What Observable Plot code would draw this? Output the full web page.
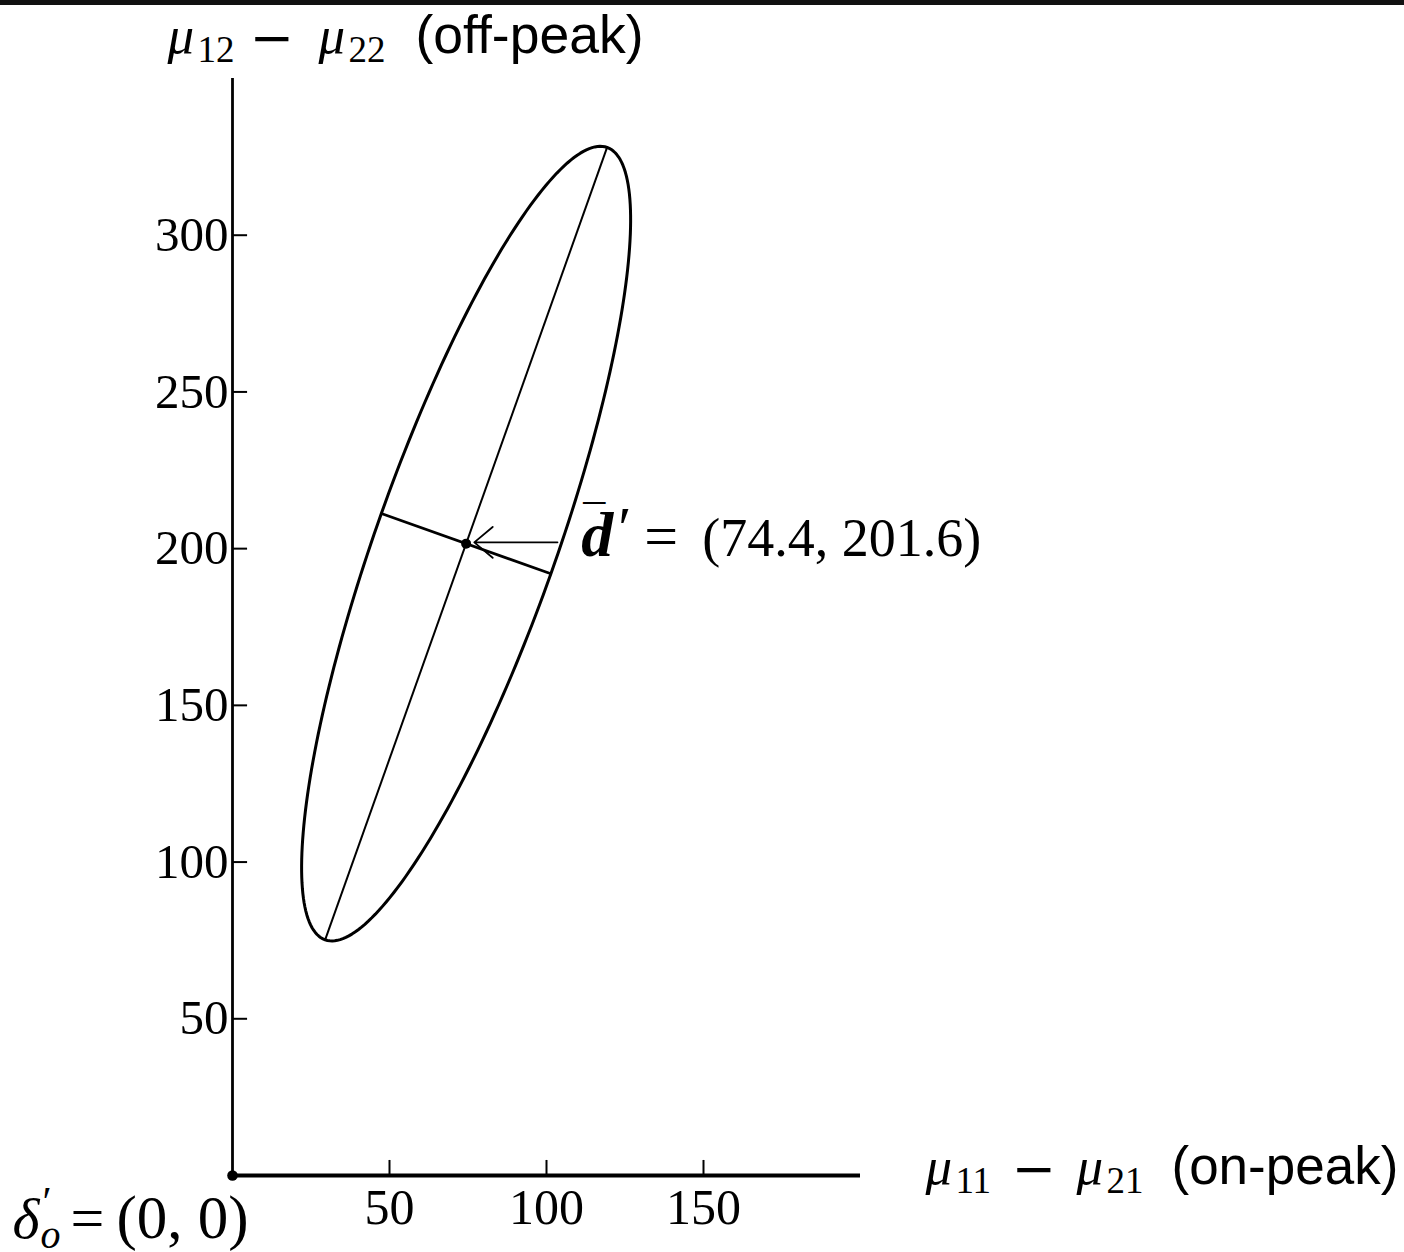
<!DOCTYPE html>
<html>
<head>
<meta charset="utf-8">
<script src="https://cdn.jsdelivr.net/npm/d3@7"></script>
<script src="https://cdn.jsdelivr.net/npm/@observablehq/plot@0.6"></script>
<style>
  html, body { margin: 0; padding: 0; background: #fff; }
  #wrap { position: relative; width: 1404px; height: 1252px; overflow: hidden; }
  #topline { position: absolute; left: 0; top: 0; width: 1404px; height: 5px; background: #111; }
  svg { display: block; }
</style>
</head>
<body>
<div id="wrap"><div id="chart"></div><div id="topline"></div></div>
<script>
// ---- data ----
const xDomain = [0, 200];
const yDomain = [0, 350];
const xTicks = [50, 100, 150];
const yTicks = [50, 100, 150, 200, 250, 300];
const center = [74.4, 201.6];          // d-bar'
const majorHalf = [44.9, 126.4];       // half major axis vector
const minorHalf = [27.0, -9.6];        // half minor axis vector
const origin = [0, 0];                 // delta'_o
const arrowFrom = [103.5, 202.0];
const arrowTo = [77.0, 202.0];
const labelX = [-20.7, 220.7, -70.1, 111.1];
const labelY = [358.0, -2.6, -19.8, 197.8];
const labelText = ["μ12 − μ22 (off-peak)", "μ11 − μ21 (on-peak)", "δ′o = (0, 0)", "d̄′ = (74.4, 201.6)"];

// ---- derived geometry ----
const nPts = 240;
const ellipse = d3.range(nPts).map(i => {
  const t = 2 * Math.PI * i / nPts;
  return {
    x: center[0] + Math.cos(t) * majorHalf[0] + Math.sin(t) * minorHalf[0],
    y: center[1] + Math.cos(t) * majorHalf[1] + Math.sin(t) * minorHalf[1]
  };
});
const majorAxis = [{x1: center[0] - majorHalf[0], y1: center[1] - majorHalf[1], x2: center[0] + majorHalf[0], y2: center[1] + majorHalf[1]}];
const minorAxis = [{x1: center[0] - minorHalf[0], y1: center[1] - minorHalf[1], x2: center[0] + minorHalf[0], y2: center[1] + minorHalf[1]}];
const labels = labelText.map((t, i) => ({x: labelX[i], y: labelY[i], text: t}));
const tickLen = 4.8;

const SERIF = "'Liberation Serif', 'DejaVu Serif', serif";
const DSERIF = "'DejaVu Serif', serif";
const SANS = "'Liberation Sans', Arial, Helvetica, sans-serif";

const plot = Plot.plot({
  width: 1404,
  height: 1252,
  marginLeft: 232,
  marginRight: 544,
  marginTop: 78,
  marginBottom: 77,
  x: {domain: xDomain, axis: null},
  y: {domain: yDomain, axis: null},
  style: {background: "#fff", fontFamily: SERIF, color: "#000", overflow: "visible"},
  marks: [
    Plot.ruleY([0], {x1: xDomain[0], x2: xDomain[1], stroke: "#000", strokeWidth: 4}),
    Plot.ruleX([0], {y1: yDomain[0], y2: yDomain[1], stroke: "#000", strokeWidth: 2.8}),
    Plot.ruleX(xTicks, {x: d => d, y1: 0, y2: tickLen, stroke: "#000", strokeWidth: 2}),
    Plot.ruleY(yTicks, {y: d => d, x1: 0, x2: tickLen, stroke: "#000", strokeWidth: 2}),
    Plot.text(xTicks, {x: d => d, y: 0, text: d => String(d), dy: 13, lineAnchor: "top", fontSize: 50, fontFamily: SERIF, fill: "#000"}),
    Plot.text(yTicks, {x: 0, y: d => d, text: d => String(d), dx: -4, textAnchor: "end", lineAnchor: "middle", fontSize: 49, fontFamily: SERIF, fill: "#000"}),
    Plot.line(ellipse, {x: "x", y: "y", curve: "linear-closed", stroke: "#000", strokeWidth: 3}),
    Plot.link(majorAxis, {x1: "x1", y1: "y1", x2: "x2", y2: "y2", stroke: "#000", strokeWidth: 2}),
    Plot.link(minorAxis, {x1: "x1", y1: "y1", x2: "x2", y2: "y2", stroke: "#000", strokeWidth: 2.8}),
    Plot.arrow([{}], {x1: arrowFrom[0], y1: arrowFrom[1], x2: arrowTo[0], y2: arrowTo[1], stroke: "#000", strokeWidth: 1.8, headLength: 20, headAngle: 80}),
    Plot.dot([center], {x: d => d[0], y: d => d[1], r: 5, fill: "#000", stroke: "none"}),
    Plot.dot([origin], {x: d => d[0], y: d => d[1], r: 5.3, fill: "#000", stroke: "none"}),
    Plot.text(labels, {x: "x", y: "y", text: "text", textAnchor: "start", lineAnchor: "bottom", fontSize: 53, fontFamily: SERIF, fill: "#000"})
  ]
});
document.getElementById("chart").appendChild(plot);

// ---- rich-text typesetting of labels (math + sans parts) ----
const svgNS = "http://www.w3.org/2000/svg";
const M = 53, S = 37;
const richSpecs = [
  [
    {t: "μ", x: 0, f: SERIF, i: true, s: M},
    {t: "12", x: 30, f: SERIF, s: S, sub: 9},
    {t: "−", x: 82, f: DSERIF, s: M, sub: 3},
    {t: "μ", x: 151, f: SERIF, i: true, s: M},
    {t: "22", x: 181, f: SERIF, s: S, sub: 9},
    {t: "(off-peak)", x: 248, f: SANS, s: 53.5}
  ],
  [
    {t: "μ", x: 0, f: SERIF, i: true, s: M},
    {t: "11", x: 30, f: SERIF, s: S, sub: 9},
    {t: "−", x: 86, f: DSERIF, s: M, sub: 3},
    {t: "μ", x: 151, f: SERIF, i: true, s: M},
    {t: "21", x: 181, f: SERIF, s: S, sub: 9},
    {t: "(on-peak)", x: 246, f: SANS, s: 53}
  ],
  [
    {t: "δ", x: 0, f: SERIF, i: true, s: 58},
    {t: "′", x: 30, f: SERIF, s: 42, sub: -22},
    {t: "o", x: 28, f: SERIF, i: true, s: 40, sub: 10},
    {t: "=", x: 58, f: SERIF, s: 60},
    {t: "(0, 0)", x: 104, f: SERIF, s: 61}
  ],
  [
    {t: "¯", x: 2, f: SERIF, s: 44, sub: -20},
    {t: "d", x: 0, f: SERIF, i: true, b: true, s: 64},
    {t: "′", x: 37, f: SERIF, s: 60, sub: -8},
    {t: "=", x: 63, f: SERIF, s: 60},
    {t: "(74.4, 201.6)", x: 121, f: SERIF, s: 54}
  ]
];
plot.querySelectorAll("text").forEach(el => {
  const i = labelText.indexOf(el.textContent);
  if (i < 0) return;
  const segs = richSpecs[i];
  while (el.firstChild) el.removeChild(el.firstChild);
  for (const sg of segs) {
    const ts = document.createElementNS(svgNS, "tspan");
    ts.textContent = sg.t;
    ts.setAttribute("x", sg.x);
    ts.setAttribute("y", sg.sub || 0);
    ts.setAttribute("font-family", sg.f);
    ts.setAttribute("font-size", sg.s);
    if (sg.i) ts.setAttribute("font-style", "italic");
    if (sg.b) ts.setAttribute("font-weight", "bold");
    el.appendChild(ts);
  }
});
</script>
</body>
</html>
